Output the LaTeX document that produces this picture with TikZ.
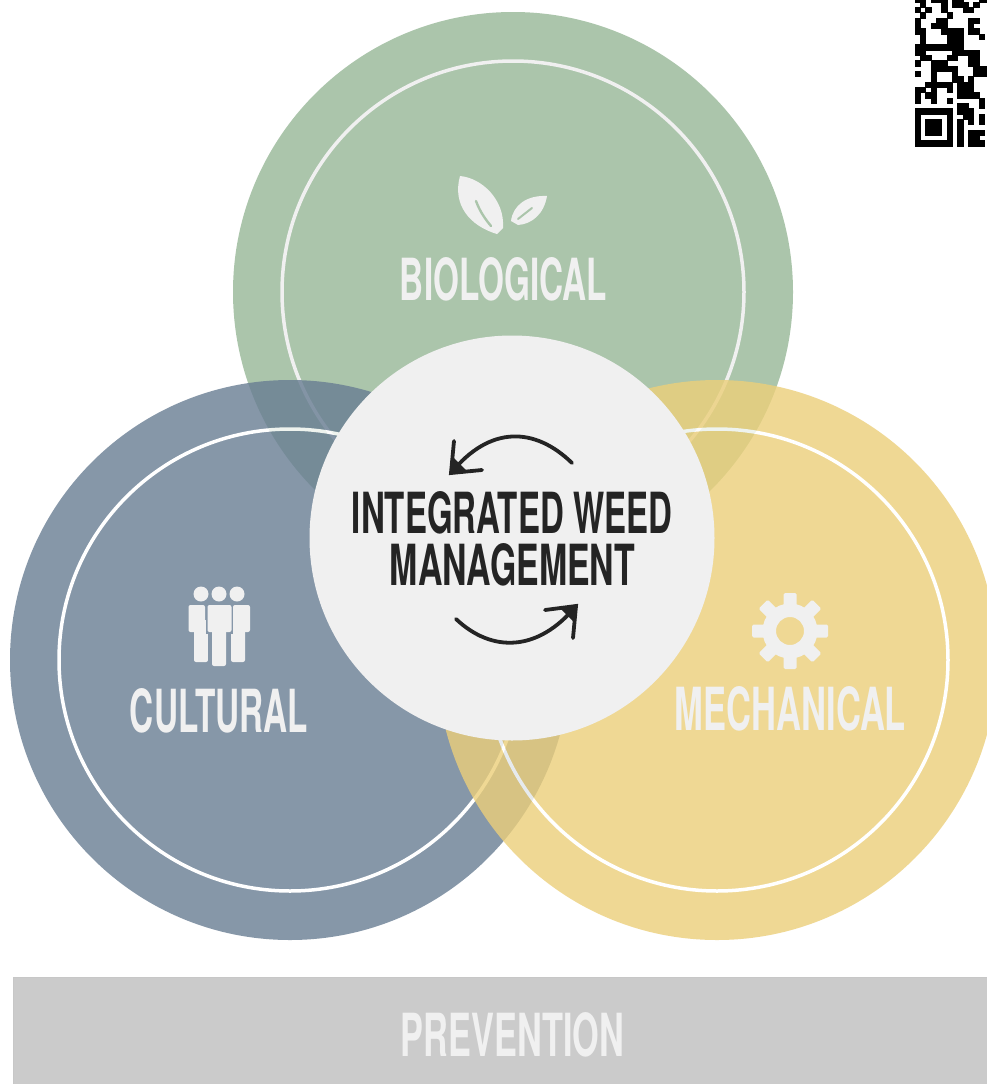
\documentclass[tikz,border=0pt]{standalone}
\usepackage{graphicx}
\usepackage{fontspec}
\setmainfont{TeX Gyre Heros}
\definecolor{greenc}{HTML}{ABC5AB}
\definecolor{bluec}{HTML}{687D93}
\definecolor{blueflat}{HTML}{8697A9}
\definecolor{yellowc}{HTML}{ECCF7A}
\definecolor{paper}{HTML}{F0F0F0}
\definecolor{barc}{HTML}{CBCBCB}
\definecolor{ink}{HTML}{242424}
\newcommand{\lab}[3]{\resizebox{#1pt}{#2pt}{\bfseries #3}}
\tikzset{
  x=1pt,y=-1pt,
  ringline/.style={draw=paper,line width=3.5pt,fill=none},
  labelnode/.style={inner sep=0pt,outer sep=0pt,text=paper,anchor=center},
  inknode/.style={inner sep=0pt,outer sep=0pt,text=ink,anchor=center},
  icon/.style={fill=paper,draw=none},
  turnarrow/.style={draw=ink,line width=3.8pt,line cap=round,line join=miter},
  qr/.style={fill=black,draw=black,line width=.6pt},
}
\begin{document}
\begin{tikzpicture}
\useasboundingbox (0,0) rectangle (986,1084);
\fill[white] (0,0) rectangle (986,1084);
% circles
\fill[greenc] (513,292) circle[radius=280];
\draw[ringline] (513,292) circle[radius=231];
\begin{scope}[transparency group,opacity=.8]
\fill[bluec] (290,660) circle[radius=280];
\draw[ringline,draw=white] (290,660) circle[radius=231];
\end{scope}
\begin{scope}[transparency group,opacity=.8]
\fill[yellowc] (717,660) circle[radius=280];
\draw[ringline,draw=white] (717,660) circle[radius=231];
\end{scope}
\node[circle,fill=paper,minimum size=405pt,inner sep=0pt] (hub) at (512,538) {};
% bar
\filldraw[fill=barc,draw=black!22,line width=.8pt] (13,977) rectangle (1000,1100);
% labels
\node[labelnode] (bio) at (503.5,279.5) {\lab{207}{43}{BIOLOGICAL}};
\node[labelnode] (cul) at (219,711) {\lab{178}{44}{CULTURAL}};
\node[labelnode] (mec) at (790.5,709) {\lab{231}{44}{MECHANICAL}};
\node[labelnode] (pre) at (512.5,1035) {\lab{223}{44}{PREVENTION}};
\node[inknode] (iwm1) at (512,513) {\lab{320}{42}{INTEGRATED WEED}};
\node[inknode] (iwm2) at (512.5,565) {\lab{245}{42}{MANAGEMENT}};
% turning arrows
\coordinate (t1a) at (572,463);\coordinate (t1b) at (451,473);
\coordinate (t2a) at (456,619);\coordinate (t2b) at (576,606);
\draw[turnarrow] (t1a) .. controls (535,427) and (490,425) .. (t1b);
\draw[turnarrow] (454,441) -- (t1b) -- (482,470);
\fill[ink] (449,475) -- (454,458) -- (467,471) -- cycle;
\draw[turnarrow] (t2a) .. controls (492,653) and (538,652) .. (t2b);
\draw[turnarrow] (573,638) -- (t2b) -- (545,610);
\fill[ink] (578,604) -- (573,621) -- (560,608) -- cycle;
% leaves
\fill[icon] (460,176) .. controls (482,178) and (505,200) .. (503,228)
  -- (497,234) .. controls (470,226) and (452,205) .. (460,176) -- cycle;
\draw[greenc,line width=2.4pt,line cap=round] (476,201) .. controls (480,212) and (486,220) .. (491,226);
\fill[icon] (547,196) .. controls (527,195) and (513,205) .. (511,221)
  -- (518,225) .. controls (532,224) and (544,214) .. (547,196) -- cycle;
\draw[greenc,line width=2pt,line cap=round] (532,208) -- (518,219);
% people
\fill[icon] (201,594) circle[radius=7.5];
\fill[icon] (219,594) circle[radius=7.5];
\fill[icon] (237,594) circle[radius=7.5];
\fill[icon,rounded corners=2pt] (188.5,605) rectangle (205,632);
\fill[icon,rounded corners=2pt] (194,620) rectangle (208,662);
\fill[icon,rounded corners=2pt] (233,605) rectangle (250,632);
\fill[icon,rounded corners=2pt] (231,620) rectangle (245,662);
\fill[blueflat] (205.5,606) rectangle (233,634);
\fill[blueflat] (208,632) rectangle (231,666);
\fill[icon,rounded corners=2pt] (207.5,605) rectangle (231.5,632);
\fill[icon,rounded corners=2pt] (212,620) rectangle (226,666);
% gear
\fill[icon,even odd rule] (790,631) circle[radius=27.5] (790,631) circle[radius=14];
\foreach \a in {0,45,...,315}{
  \fill[icon,rounded corners=1.5pt,rotate around={\a:(790,631)}] (783.5,593) rectangle (796.5,608);
}
% QR
\begin{scope}[shift={(915,2)},x=5.333pt,y=-5.333pt]
\foreach \c/\r/\l in {
 0/-1/2,3/-1/3,7/-1/2,12/-1/2,
 1/0/1,5/0/1,7/0/3,11/0/1,
 0/1/1,2/1/1,5/1/1,9/1/2,
 1/2/1,6/2/1,
 0/3/1,4/3/2,10/3/2,
 0/4/1,3/4/3,10/4/1,
 0/5/2,5/5/4,10/5/1,11/5/1,
 1/6/1,6/6/3,12/6/1,
 1/7/1,6/7/3,
 0/8/9,
 0/9/2,7/9/4,11/9/1,
 1/10/2,6/10/2,10/10/2,
 0/11/1,3/11/3,10/11/2,
 3/12/5,11/12/3,
 0/13/1,3/13/1,7/13/1,11/13/3,
 3/14/1,7/14/2,10/14/1,
 2/15/5,8/15/3,
 0/16/2,3/16/1,6/16/1,8/16/3,
 0/17/1,2/17/2,8/17/4,
 0/18/1,3/18/1,6/18/1,12/18/1,
 8/19/2,12/19/1,
 8/20/3,9/21/2,12/21/1,
 8/22/1,10/22/1,12/22/1,
 8/23/1,8/24/1,10/24/3,8/25/1,10/25/2,8/26/1,10/26/3}{
  \fill[qr] (\c,\r) rectangle ++(\l,1);
}
\fill[qr] (0,20) rectangle (7,21);
\fill[qr] (0,26) rectangle (7,27);
\fill[qr] (0,20) rectangle (1,27);
\fill[qr] (6,20) rectangle (7,27);
\fill[qr] (2,22) rectangle (5,25);
\end{scope}
\end{tikzpicture}
\end{document}
